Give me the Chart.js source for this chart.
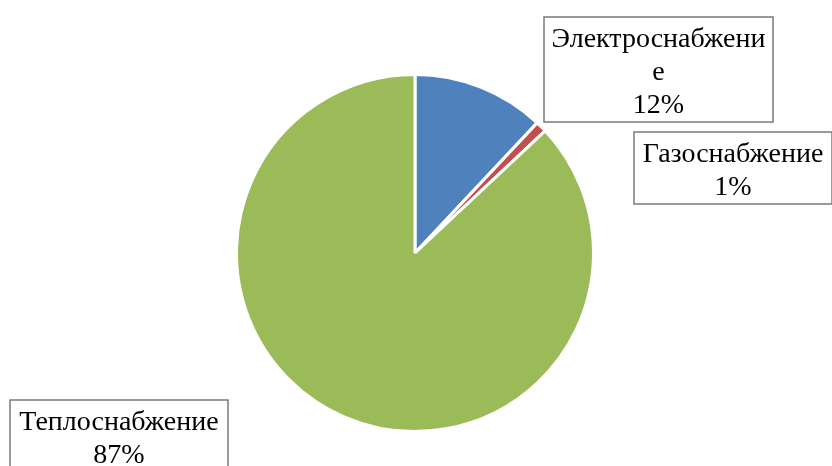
<!DOCTYPE html>
<html>
<head>
<meta charset="utf-8">
<script src="https://cdn.jsdelivr.net/npm/chart.js@4/dist/chart.umd.min.js"></script>
<style>
  html, body { margin: 0; padding: 0; background: #fff; }
  #wrap { width: 832px; height: 466px; }
</style>
</head>
<body>
<div id="wrap"><canvas id="supply"></canvas></div>
<script>
var categories = ["Электроснабжение", "Газоснабжение", "Теплоснабжение"];
var shares = [12, 1, 87];
var colors = ['#4f81bd', '#c0504d', '#9bbb59'];

// label boxes (left, top, width) in canvas px, one per slice
var boxes = [
  { x: 544, y: 17, w: 229 },
  { x: 634, y: 132, w: 198 },
  { x: 10, y: 400, w: 218 }
];

// break a label into lines that fit the box, splitting inside words if needed
function wrapText(ctx, text, maxW) {
  var lines = [];
  var cur = '';
  for (var i = 0; i < text.length; i++) {
    var t = cur + text[i];
    if (cur && ctx.measureText(t).width > maxW) {
      lines.push(cur);
      cur = text[i];
    } else {
      cur = t;
    }
  }
  if (cur) lines.push(cur);
  return lines;
}

var boxLabels = {
  id: 'boxLabels',
  afterDraw: function(chart) {
    var ctx = chart.ctx;
    var data = chart.data.datasets[0].data;
    var total = data.reduce(function(a, b) { return a + b; }, 0);
    var lineH = 33;
    ctx.save();
    ctx.font = '28px "Liberation Serif", "Times New Roman", serif';
    ctx.textAlign = 'center';
    ctx.textBaseline = 'alphabetic';
    for (var i = 0; i < data.length; i++) {
      var b = boxes[i];
      var lines = wrapText(ctx, chart.data.labels[i], b.w - 8);
      lines.push(Math.round(data[i] / total * 100) + '%');
      var h = 6 + lines.length * lineH;
      ctx.fillStyle = '#fff';
      ctx.fillRect(b.x, b.y, b.w, h);
      ctx.strokeStyle = '#7a7a7a';
      ctx.lineWidth = 1.5;
      ctx.strokeRect(b.x, b.y, b.w, h);
      ctx.fillStyle = '#000';
      for (var j = 0; j < lines.length; j++) {
        ctx.fillText(lines[j], b.x + b.w / 2, b.y + 30 + j * lineH);
      }
    }
    ctx.restore();
  }
};

var supplyChart = new Chart(document.getElementById('supply'), {
  type: 'pie',
  data: {
    labels: categories,
    datasets: [{
      data: shares,
      backgroundColor: colors,
      borderColor: '#fff',
      borderWidth: 3
    }]
  },
  options: {
    responsive: true,
    maintainAspectRatio: false,
    animation: false,
    layout: {
      padding: { top: 73, bottom: 33, left: 235, right: 237 }
    },
    plugins: {
      legend: { display: false },
      tooltip: { enabled: false }
    }
  },
  plugins: [boxLabels]
});
</script>
</body>
</html>
